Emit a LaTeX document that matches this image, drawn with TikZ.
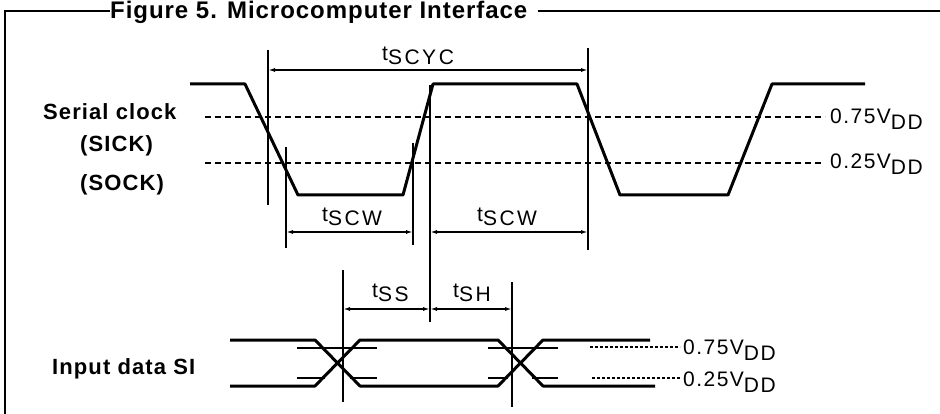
\documentclass[tikz,border=0pt]{standalone}
\usepackage{fontspec}
\setmainfont{Liberation Sans}
\newfontfamily\labfont[LetterSpace=5]{Liberation Sans}
\newfontfamily\ttlfont[LetterSpace=4]{Liberation Sans}
\newfontfamily\timfont[LetterSpace=12]{Liberation Sans}
\newfontfamily\valfont[LetterSpace=7]{Liberation Sans}
\usetikzlibrary{arrows.meta}
\newcommand\tlab[1]{t\raisebox{-3.5pt}{#1}}
\newcommand\vlab[1]{#1V\raisebox{-6pt}{DD}}
\tikzset{
 frame/.style={line width=1.8pt},
 sig/.style={line width=3pt, line join=round},
 thr/.style={line width=1.3pt, dash pattern=on 6pt off 4pt},
 dots/.style={line width=1.3pt, dash pattern=on 3pt off 2pt},
 vline/.style={line width=1.5pt},
 thin/.style={line width=1.3pt},
 dim/.style={line width=1.5pt, {Latex[length=7pt,width=4pt]}-{Latex[length=7pt,width=4pt]}},
 lab/.style={font=\labfont\bfseries\fontsize{22}{22}\selectfont, inner sep=0pt, anchor=base west},
 tim/.style={font=\timfont\fontsize{21}{21}\selectfont, inner sep=0pt, anchor=base west},
 val/.style={font=\valfont\fontsize{21}{21}\selectfont, inner sep=0pt, anchor=base west},
 ttl/.style={font=\ttlfont\bfseries\fontsize{24}{24}\selectfont, inner sep=0pt, anchor=base west},
}
\begin{document}
\begin{tikzpicture}[x=1pt,y=-1pt]
\useasboundingbox (0,0) rectangle (940,414);
% frame and title
\node[ttl] (title) at (110,19) {Figure 5. Microcomputer Interface};
\coordinate (tl) at (5,11);
\draw[frame] (title.west |- tl) -- (tl) -- (5,414);
\draw[frame] ([xshift=10pt]title.east |- tl) -- (940,11);
% clock waveform
\draw[sig] (190,84) -- (245,84) -- (298,195) -- (403,195) -- (433,84) -- (577,84) -- (620,195) -- (728,195) -- (772,84) -- (865,84);
\draw[thr] (205,117) -- (825,117);
\draw[thr] (205,163) -- (822,163);
% verticals
\draw[vline] (268,50) -- (268,205);
\draw[vline] (588,48) -- (588,250);
\draw[vline] (286,147) -- (286,248);
\draw[vline] (413,143) -- (413,245);
\draw[vline] (430,85) -- (430,322);
\draw[vline] (343,270) -- (343,402);
\draw[vline] (512,282) -- (512,407);
% dimension arrows
\draw[dim] (268,70) -- (588,70);
\draw[dim] (286,232) -- (413,232);
\draw[dim] (430,232) -- (588,232);
\draw[dim] (343,309) -- (430,309);
\draw[dim] (430,309) -- (512,309);
% data waveform
\draw[sig] (230,340) -- (315,340) -- (360,386) -- (498,386) -- (543,340) -- (650,340);
\draw[sig] (230,386) -- (315,386) -- (360,340) -- (498,340) -- (543,386) -- (655,386);
\draw[thin] (297,348) -- (377,348);
\draw[thin] (488,348) -- (558,348);
\draw[thin] (297,378) -- (325,378);
\draw[thin] (350,378) -- (377,378);
\draw[thin] (488,378) -- (508,378);
\draw[thin] (532,378) -- (558,378);
\draw[dots] (590,347) -- (680,347);
\draw[dots] (592,378) -- (680,378);
% labels
\node[lab] (sc) at (43,120) {Serial clock};
\node[lab] (sick) at (80,152) {(SICK)};
\node[lab] (sock) at (80,191) {(SOCK)};
\node[lab] (sin) at (52,374) {Input data SI};
\node[tim] (tcyc) at (382,61) {\tlab{SCYC}};
\node[tim] (tcw1) at (322,222) {\tlab{SCW}};
\node[tim] (tcw2) at (477,222) {\tlab{SCW}};
\node[tim] (tss) at (372,298) {\tlab{SS}};
\node[tim] (tsh) at (453,298) {\tlab{SH}};
\node[val] (v1) at (830,124) {\vlab{0.75}};
\node[val] (v2) at (830,169) {\vlab{0.25}};
\node[val] (v3) at (683,354) {\vlab{0.75}};
\node[val] (v4) at (683,386) {\vlab{0.25}};
\end{tikzpicture}
\end{document}
